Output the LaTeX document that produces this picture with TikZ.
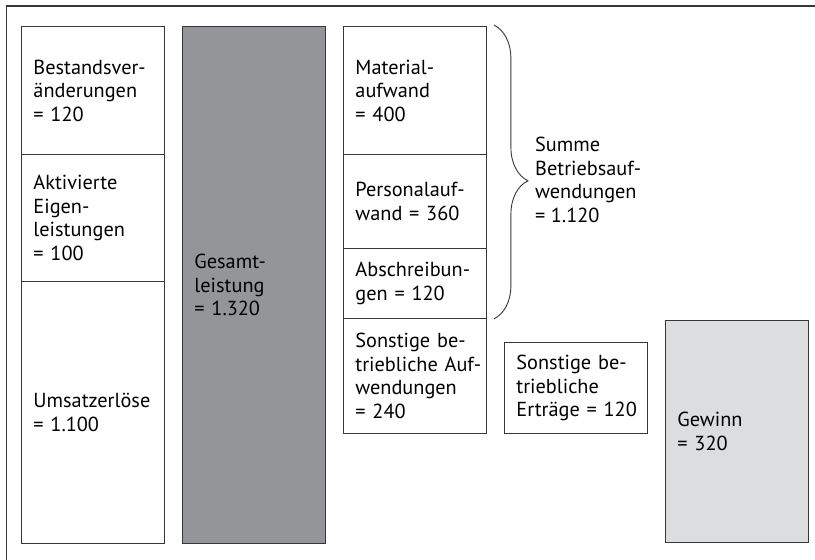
\documentclass[tikz,border=0pt]{standalone}
\usepackage{fontspec}
\setmainfont{PT Sans}
\usetikzlibrary{decorations.pathreplacing}
\definecolor{dunkelgrau}{RGB}{147,149,152}
\definecolor{hellgrau}{RGB}{220,221,223}
\definecolor{linie}{RGB}{55,55,55}
\def\breite{143pt}
\def\schrift{\fontsize{20.3}{23.5}\selectfont\hyphenpenalty=10000\exhyphenpenalty=10000}
\tikzset{
  posten/.style={draw=linie, line width=0.9pt, anchor=north west, align=left,
    inner xsep=12pt, inner ysep=0pt, minimum width=\breite, text width=119pt,
    font=\schrift},
  klammer/.style={draw=linie, line width=0.9pt,
    decorate, decoration={brace, amplitude=34pt, aspect=0.53}},
}
\begin{document}
\begin{tikzpicture}[x=1pt, y=-1pt]
  \useasboundingbox (0,0) rectangle (815,560);
  \draw[linie, line width=1.3pt] (6.5,560) -- (6.5,6) -- (815,6);
  % Ertragsseite
  \node[posten, minimum height=128pt] (bestand) at (21,26) {Bestandsver-\\änderungen\\= 120};
  \node[posten, minimum height=127pt] (aktiv) at (21,154) {Aktivierte\\Eigen-\\leistungen\\= 100};
  \node[posten, minimum height=262pt] (umsatz) at (21,281) {Umsatzerlöse\\= 1.100};
  \node[posten, minimum height=517pt, fill=dunkelgrau] (gesamt) at (182,26) {Gesamt-\\leistung\\= 1.320};
  % Aufwandsseite
  \node[posten, minimum height=128pt] (material) at (343,26) {Material-\\aufwand\\= 400};
  \node[posten, minimum height=94pt] (personal) at (343,154) {Personalauf-\\wand~=~360};
  \node[posten, minimum height=70pt] (abschr) at (343,248) {Abschreibun-\\gen~=~120};
  \node[posten, minimum height=115pt] (sonstauf) at (343,318) {Sonstige be-\\triebliche~Auf-\\wendungen\\= 240};
  \node[posten, minimum height=91pt] (sonstertr) at (504,342) {Sonstige be-\\triebliche\\Erträge~=~120};
  \node[posten, minimum height=222pt, fill=hellgrau] (gewinn) at (665,320) {Gewinn\\= 320};
  % Summe
  \coordinate (kl-oben) at ([xshift=7pt, yshift=1pt]material.north east);
  \coordinate (kl-unten) at ([xshift=7pt]abschr.south east);
  \draw[klammer] (kl-oben) -- (kl-unten);
  \node[anchor=west, align=left, inner sep=0pt, font=\schrift] (summe) at (535,180) {Summe\\Betriebsauf-\\wendungen\\= 1.120};
\end{tikzpicture}
\end{document}
